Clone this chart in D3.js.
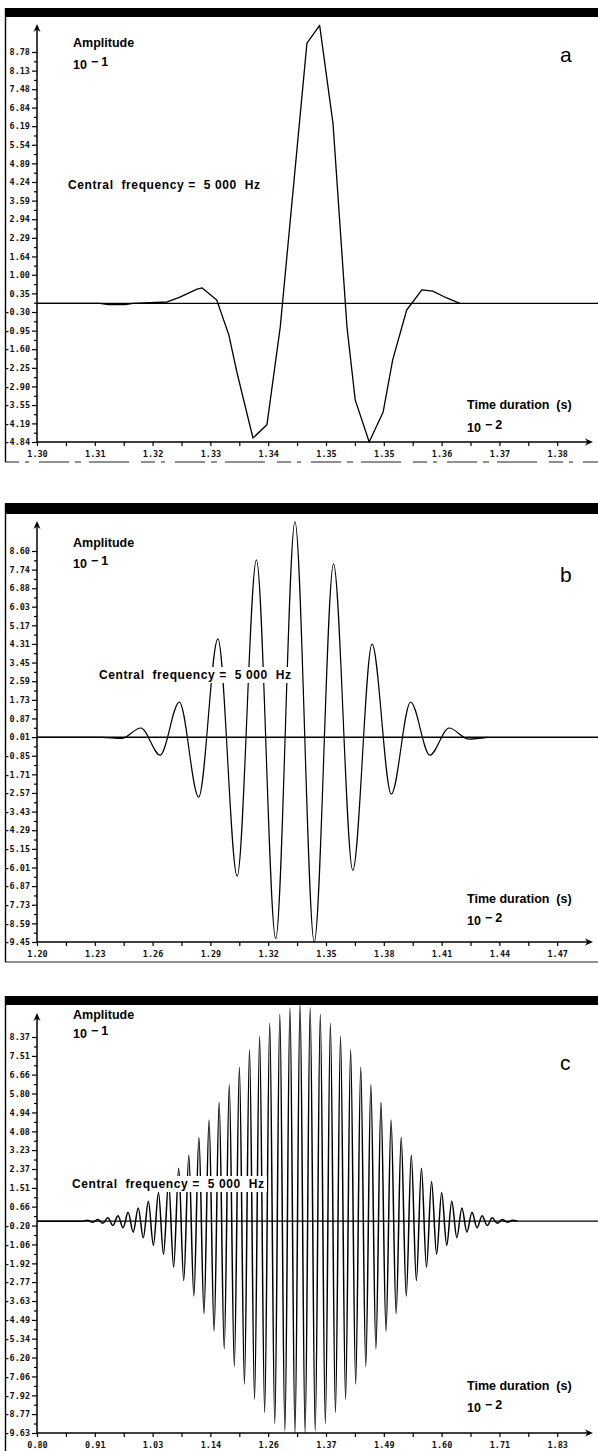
<!DOCTYPE html>
<html><head><meta charset="utf-8">
<script src="https://cdn.jsdelivr.net/npm/d3@7/dist/d3.min.js"></script>
<style>body{margin:0;background:#fff}svg{display:block}</style>
</head><body>
<script>
// ---------------- DATA ----------------
// Panel a
const aXTicks = [1.3000,1.3091,1.3182,1.3273,1.3364,1.3455,1.3546,1.3637,1.3728,1.3819];
const aXLabels = ["1.30","1.31","1.32","1.33","1.34","1.35","1.35","1.36","1.37","1.38"];
const aYLabels = ["8.78","8.13","7.48","6.84","6.19","5.54","4.89","4.24","3.59","2.94","2.29","1.64","1.00","0.35","-0.30","-0.95","-1.60","-2.25","-2.90","-3.55","-4.19","-4.84"];
const aTime = [1.3000,1.3099,1.3112,1.3139,1.3151,1.3205,1.3225,1.3252,1.3260,1.3283,1.3302,1.3315,1.3340,1.3362,1.3383,1.3425,1.3445,1.3466,1.3488,1.3501,1.3523,1.3545,1.3560,1.3582,1.3606,1.3623,1.3645,1.3666];
const aAmp  = [0,0,-0.04,-0.04,0,0.05,0.22,0.50,0.54,0.12,-1.10,-2.43,-4.70,-4.24,-0.82,9.09,9.71,6.29,-0.82,-3.37,-4.84,-3.79,-1.97,-0.23,0.47,0.43,0.19,0];

// Panel b
const bXTicks = [1.20,1.23,1.26,1.29,1.32,1.35,1.38,1.41,1.44,1.47];
const bXLabels = ["1.20","1.23","1.26","1.29","1.32","1.35","1.38","1.41","1.44","1.47"];
const bYLabels = ["8.60","7.74","6.88","6.03","5.17","4.31","3.45","2.59","1.73","0.87","0.01","-0.85","-1.71","-2.57","-3.43","-4.29","-5.15","-6.01","-6.87","-7.73","-8.59","-9.45"];
const bTime = [1.2000,1.2340,1.2439,1.2539,1.2639,1.2739,1.2839,1.2939,1.3039,1.3139,1.3239,1.3339,1.3439,1.3539,1.3639,1.3739,1.3839,1.3939,1.4039,1.4139,1.4239,1.4339];
const bAmp  = [0,0,-0.05,0.43,-0.82,1.63,-2.76,4.54,-6.41,8.19,-9.30,9.95,-9.45,8.01,-6.14,4.30,-2.62,1.63,-0.82,0.43,-0.08,0];

// Panel c
const cXTicks = [0.8000,0.9143,1.0286,1.1429,1.2572,1.3715,1.4858,1.6001,1.7144,1.8287];
const cXLabels = ["0.80","0.91","1.03","1.14","1.26","1.37","1.49","1.60","1.71","1.83"];
const cYLabels = ["8.37","7.51","6.66","5.80","4.94","4.08","3.23","2.37","1.51","0.66","-0.20","-1.06","-1.92","-2.77","-3.63","-4.49","-5.34","-6.20","-7.06","-7.92","-8.77","-9.63"];
const cTime = [0.8000,0.8902,
 0.9002,0.9102,0.9202,0.9302,0.9402,0.9502,0.9602,0.9702,0.9802,0.9902,
 1.0002,1.0102,1.0202,1.0302,1.0402,1.0502,1.0602,1.0702,1.0802,1.0902,
 1.1002,1.1102,1.1202,1.1302,1.1402,1.1502,1.1602,1.1702,1.1802,1.1902,
 1.2002,1.2102,1.2202,1.2302,1.2402,1.2502,1.2602,1.2702,1.2802,1.2902,
 1.3002,1.3102,1.3202,1.3302,1.3402,1.3502,1.3602,1.3702,1.3802,1.3902,
 1.4002,1.4102,1.4202,1.4302,1.4402,1.4502,1.4602,1.4702,1.4802,1.4902,
 1.5002,1.5102,1.5202,1.5302,1.5402,1.5502,1.5602,1.5702,1.5802,1.5902,
 1.6002,1.6102,1.6202,1.6302,1.6402,1.6502,1.6602,1.6702,1.6802,1.6902,
 1.7002,1.7102,1.7202,1.7302,1.7402,1.7502];
const cAmp = [0,0,
 0.04,-0.05,0.07,-0.10,0.15,-0.20,0.25,-0.30,0.40,-0.50,
 0.60,-0.75,0.90,-1.10,1.30,-1.50,1.80,-2.10,2.40,-2.70,
 3.00,-3.40,3.80,-4.20,4.60,-5.00,5.40,-5.80,6.20,-6.60,
 7.00,-7.40,7.80,-8.10,8.40,-8.70,9.00,-9.20,9.40,-9.55,
 9.70,-9.63,9.90,-9.63,9.70,-9.55,9.40,-9.20,9.00,-8.70,
 8.40,-8.10,7.80,-7.40,7.00,-6.60,6.20,-5.80,5.40,-5.00,
 4.60,-4.20,3.80,-3.40,3.00,-2.70,2.40,-2.10,1.80,-1.50,
 1.30,-1.10,0.90,-0.75,0.60,-0.50,0.40,-0.30,0.25,-0.20,
 0.15,-0.10,0.07,-0.05,0.04,0];

const centralText = "Central  frequency =  5 000  Hz";

// ---------------- LAYOUT ----------------
const W = 598, H = 1451;
const svg = d3.select("body").append("svg").attr("width", W).attr("height", H);

const panels = [
  {letter:"a", xTicks:aXTicks, xLabels:aXLabels, yLabels:aYLabels, time:aTime, amp:aAmp, curve:d3.curveLinear, sw:1.3,
   barY:8, barH:9, axisY:442, topLabelY:52, arrowTop:24, frameBottom:462, frameDash:"14,6,4,10,30,6,6,8,40,12",
   ampY:47, expY:69, letterY:62, cfX:68, cfY:189, tdY:409, exp2Y:432, cfBox:false},
  {letter:"b", xTicks:bXTicks, xLabels:bXLabels, yLabels:bYLabels, time:bTime, amp:bAmp, curve:d3.curveMonotoneX, sw:1.2,
   barY:503, barH:11, axisY:942, topLabelY:551, arrowTop:521, frameBottom:962, frameDash:null,
   ampY:547, expY:568, letterY:582, cfX:99, cfY:679, tdY:903, exp2Y:925, cfBox:true},
  {letter:"c", xTicks:cXTicks, xLabels:cXLabels, yLabels:cYLabels, time:cTime, amp:cAmp, curve:d3.curveMonotoneX, sw:1.5,
   barY:996, barH:9, axisY:1433, topLabelY:1037, arrowTop:1013, frameBottom:1460, frameDash:null,
   ampY:1019, expY:1038, letterY:1070, cfX:72, cfY:1188, tdY:1390, exp2Y:1412, cfBox:true}
];

const X0 = 37, XLAST = 557.2, XARROW = 593;

function drawPanel(p){
  const g = svg.append("g");
  const x = d3.scaleLinear().domain([p.xTicks[0], p.xTicks[p.xTicks.length-1]]).range([X0, XLAST]);
  const yVals = p.yLabels.map(Number);
  const y = d3.scaleLinear().domain([yVals[yVals.length-1], yVals[0]]).range([p.axisY, p.topLabelY]);

  // frame
  g.append("rect").attr("x",5).attr("y",p.barY).attr("width",W-5).attr("height",p.barH).attr("fill","#000");
  g.append("line").attr("x1",5.5).attr("x2",5.5).attr("y1",p.barY).attr("y2",p.frameBottom)
    .attr("stroke","#000").attr("stroke-width",1.4);
  g.append("line").attr("x1",5).attr("x2",W).attr("y1",p.frameBottom).attr("y2",p.frameBottom)
    .attr("stroke","#222").attr("stroke-width",1.2).attr("stroke-dasharray",p.frameDash);

  // zero line
  g.append("line").attr("x1",X0).attr("x2",W).attr("y1",y(0)).attr("y2",y(0))
    .attr("stroke","#000").attr("stroke-width",1.4);

  // waveform
  const line = d3.line().x(d=>x(d[0])).y(d=>y(d[1])).curve(p.curve);
  g.append("path").datum(d3.zip(p.time, p.amp)).attr("d", line)
    .attr("fill","none").attr("stroke","#000").attr("stroke-width",p.sw).attr("stroke-linejoin","round");

  // y axis
  const yAxis = d3.axisLeft(y).tickValues(yVals).tickFormat((d,i)=>p.yLabels[i]).tickSize(5).tickPadding(2);
  const ya = g.append("g").attr("transform",`translate(${X0},0)`).call(yAxis);
  ya.select(".domain").remove();
  ya.selectAll("line").attr("stroke","#000").attr("stroke-width",1.2);
  ya.selectAll("text").attr("font-family","DejaVu Sans Mono").attr("font-size",8.5).attr("font-weight","bold").attr("fill","#111");
  const yMinor = d3.pairs(yVals).map(([u,v])=>(u+v)/2);
  const ym = g.append("g").attr("transform",`translate(${X0},0)`).call(d3.axisLeft(y).tickValues(yMinor).tickFormat("").tickSize(3));
  ym.select(".domain").remove();
  ym.selectAll("line").attr("stroke","#000").attr("stroke-width",1.2);
  g.append("line").attr("x1",X0).attr("x2",X0).attr("y1",p.axisY).attr("y2",p.arrowTop+2)
    .attr("stroke","#000").attr("stroke-width",1.5);
  g.append("path").attr("d",`M${X0},${p.arrowTop} l-3.5,8 l3.5,-2.5 l3.5,2.5 z`).attr("fill","#000");

  // x axis
  const xAxis = d3.axisBottom(x).tickValues(p.xTicks).tickFormat((d,i)=>p.xLabels[i]).tickSize(4).tickPadding(5);
  const xa = g.append("g").attr("transform",`translate(0,${p.axisY})`).call(xAxis);
  xa.select(".domain").remove();
  xa.selectAll("line").attr("stroke","#000").attr("stroke-width",1.2);
  xa.selectAll("text").attr("font-family","DejaVu Sans Mono").attr("font-size",8.5).attr("font-weight","bold").attr("fill","#111");
  const xMinor = d3.pairs(p.xTicks).map(([u,v])=>(u+v)/2);
  const xm = g.append("g").attr("transform",`translate(0,${p.axisY})`).call(d3.axisBottom(x).tickValues(xMinor).tickFormat("").tickSize(4));
  xm.select(".domain").remove();
  xm.selectAll("line").attr("stroke","#000").attr("stroke-width",1.2);
  g.append("line").attr("x1",X0).attr("x2",XARROW-2).attr("y1",p.axisY).attr("y2",p.axisY)
    .attr("stroke","#000").attr("stroke-width",1.5);
  g.append("path").attr("d",`M${XARROW},${p.axisY} l-8,-3.5 l2.5,3.5 l-2.5,3.5 z`).attr("fill","#000");

  // texts
  const font = "Liberation Sans, Arial, sans-serif";
  g.append("text").attr("x",73).attr("y",p.ampY).text("Amplitude")
    .attr("font-family",font).attr("font-weight","bold").attr("font-size",12.5);
  const e1 = g.append("text").attr("x",73).attr("y",p.expY).attr("font-family",font).attr("font-weight","bold").attr("font-size",12.5);
  e1.append("tspan").text("10");
  e1.append("tspan").attr("dx",4).attr("dy",-3).text("−");
  e1.append("tspan").attr("dx",3).text("1");

  g.append("text").attr("x",560).attr("y",p.letterY).text(p.letter)
    .attr("font-family",font).attr("font-size",21);

  if (p.cfBox) {
    g.append("rect").attr("x",p.cfX-3).attr("y",p.cfY-12).attr("width",198).attr("height",16).attr("fill","#fff");
  }
  g.append("text").attr("x",p.cfX).attr("y",p.cfY).text(centralText)
    .style("white-space","pre")
    .attr("font-family",font).attr("font-weight","bold").attr("font-size",12)
    .attr("textLength",192).attr("lengthAdjust","spacing");

  g.append("text").attr("x",467).attr("y",p.tdY).text("Time duration  (s)").style("white-space","pre")
    .attr("font-family",font).attr("font-weight","bold").attr("font-size",12.5);
  const e2 = g.append("text").attr("x",467).attr("y",p.exp2Y).attr("font-family",font).attr("font-weight","bold").attr("font-size",12.5);
  e2.append("tspan").text("10");
  e2.append("tspan").attr("dx",4).attr("dy",-3).text("−");
  e2.append("tspan").attr("dx",3).text("2");
}

panels.forEach(drawPanel);
</script>
</body></html>
